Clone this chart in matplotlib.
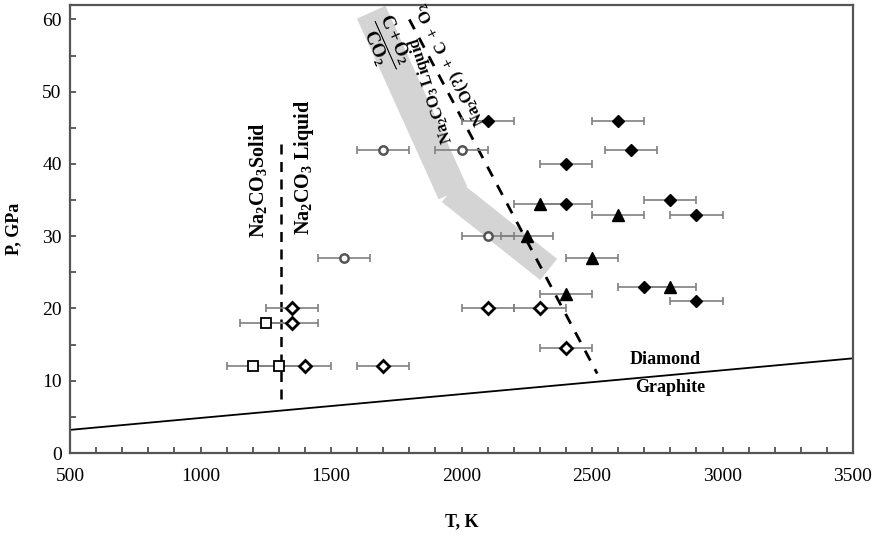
import matplotlib
matplotlib.use("Agg")
import matplotlib.pyplot as plt
from matplotlib.ticker import MultipleLocator

plt.rcParams["font.family"] = ["Liberation Serif", "DejaVu Serif"]
plt.rcParams["mathtext.fontset"] = "custom"
plt.rcParams["mathtext.rm"] = "Liberation Serif"
plt.rcParams["mathtext.bf"] = "Liberation Serif:bold"
plt.rcParams["mathtext.it"] = "Liberation Serif:italic"

# ---- data (T in K, P in GPa) ----
fd_T = [2100, 2600, 2650, 2400, 2800, 2400, 2900, 2700, 2900]   # filled diamonds
fd_P = [46, 46, 42, 40, 35, 34.5, 33, 23, 21]
ft_T = [2300, 2600, 2250, 2500, 2400, 2800]                     # filled triangles
ft_P = [34.5, 33, 30, 27, 22, 23]
od_T = [1350, 1350, 1400, 1700, 2100, 2300, 2400]               # open diamonds
od_P = [20, 18, 12, 12, 20, 20, 14.5]
sq_T = [1250, 1200, 1300]                                       # open squares
sq_P = [18, 12, 12]
oc_T = [1700, 2000, 1550, 2100]                                 # open circles
oc_P = [42, 42, 27, 30]
t_err = 100

gd_T = [500, 3500]          # graphite / diamond boundary
gd_P = [3.2, 13.1]
melt_T = [1310, 1310]       # Na2CO3 melting
melt_P = [7.5, 43.7]
dec_T = [1800, 2520]        # Na2CO3 liquid decomposition
dec_P = [60, 11]
band1_T = [1654, 1967]      # C + O2 / CO2 band
band1_P = [61, 36]
band2_T = [1957, 2334]
band2_P = [36.2, 25.4]

fig = plt.figure(figsize=(8.77, 5.36), dpi=100)
ax = fig.add_axes([70/877, 1 - 453/536, 783/877, 448/536])
ax.set_xlim(500, 3500); ax.set_ylim(0, 62)

# band
ax.plot(band1_T, band1_P, color="#d4d4d4", lw=22.5, solid_capstyle="butt", zorder=1)
ax.plot(band2_T, band2_P, color="#d4d4d4", lw=19.5, solid_capstyle="butt", zorder=1)

# lines
ax.plot(gd_T, gd_P, color="black", lw=1.3, zorder=2)
ax.plot(melt_T, melt_P, color="black", lw=1.8, ls=(0, (4, 3)), zorder=2)
ax.plot(dec_T, dec_P, color="black", lw=2.0, ls=(0, (4, 3.5)), zorder=2)

# error bars
for T, P in [(fd_T, fd_P), (ft_T, ft_P), (od_T, od_P), (sq_T, sq_P), (oc_T, oc_P)]:
    ax.errorbar(T, P, xerr=t_err, fmt="none", ecolor="#808080", elinewidth=1.2,
                capsize=3, capthick=1.2, zorder=3)

# markers
ax.plot(fd_T, fd_P, "D", ms=6, color="black", zorder=4)
ax.plot(ft_T, ft_P, "^", ms=8, color="black", zorder=4)
ax.plot(od_T, od_P, "D", ms=6.5, mfc="white", mec="black", mew=2, zorder=4)
ax.plot(sq_T, sq_P, "s", ms=7, mfc="white", mec="black", mew=1.3, zorder=4)
ax.plot(oc_T, oc_P, "o", ms=6, mfc="white", mec="#555555", mew=1.8, zorder=4)

# labels
tk = dict(fontsize=13, fontweight="bold", ha="center", va="center", rotation_mode="anchor", zorder=5)
ax.text(1221, 37.8, r"$\mathbf{Na_2CO_3Solid}$", rotation=90, **{**tk, "fontsize": 14.5})
ax.text(1395, 39.5, r"$\mathbf{Na_2CO_3\ Liquid}$", rotation=90, **{**tk, "fontsize": 14.5})
ax.text(1705, 56.6, r"$\dfrac{\mathbf{C + O_2}}{\mathbf{CO_2}}$", rotation=-66, **{**tk, "fontsize": 13.5})
ax.text(1885, 50.3, r"$\mathbf{Na_2CO_3\ Liquid}$", rotation=108, **{**tk, "fontsize": 12})
ax.text(1962, 53.9, r"$\mathbf{Na_2O(?)\ +\ C\ +\ O_2}$", rotation=117, **{**tk, "fontsize": 12})
ax.text(2781, 12.9, "Diamond", **tk)
ax.text(2800, 9.1, "Graphite", **tk)

ax.set_xlabel("T, K", fontsize=13, fontweight="bold", labelpad=20)
ax.set_ylabel("P, GPa", fontsize=13, fontweight="bold", labelpad=14)

ax.xaxis.set_major_locator(MultipleLocator(500))
ax.xaxis.set_minor_locator(MultipleLocator(100))
ax.yaxis.set_major_locator(MultipleLocator(10))
ax.yaxis.set_minor_locator(MultipleLocator(5))
ax.tick_params(which="both", direction="in", length=4.5, width=1.2, color="#444444",
               labelsize=14, top=False, right=False)
ax.tick_params(axis="x", pad=11)
ax.tick_params(axis="y", pad=6)
for s in ax.spines.values():
    s.set_linewidth(1.6); s.set_color("#555555")

fig.savefig("out.png", dpi=100)
